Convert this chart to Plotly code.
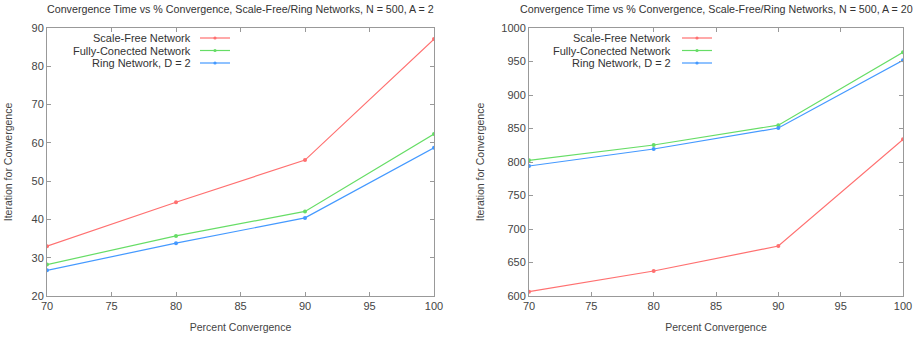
import plotly.graph_objects as go
from plotly.subplots import make_subplots

x_vals = [70, 80, 90, 100]
left_scale_free = [33.0, 44.5, 55.5, 87.1]
left_fully = [28.2, 35.7, 42.1, 62.3]
left_ring = [26.7, 33.8, 40.4, 58.7]
right_scale_free = [606.4, 637.3, 674.6, 833.8]
right_fully = [802.5, 825.4, 855.0, 963.7]
right_ring = [794.0, 819.4, 850.7, 951.8]
series_names = ["Scale-Free Network", "Fully-Conected Network", "Ring Network, D = 2"]
colors = ["#ff7070", "#66dd66", "#4499ff"]
titles = ["Convergence Time vs % Convergence, Scale-Free/Ring Networks, N = 500, A = 2",
          "Convergence Time vs % Convergence, Scale-Free/Ring Networks, N = 500, A = 20"]

W, H = 920, 339
L, R, T, B = 47, 17, 28, 43
pw = W - L - R
d1 = [0, (434 - 47) / pw]
d2 = [(529 - 47) / pw, 1]
FONT = "Liberation Sans, Arial"

fig = make_subplots(rows=1, cols=2)
for col, data in [(1, [left_scale_free, left_fully, left_ring]),
                  (2, [right_scale_free, right_fully, right_ring])]:
    for name, ys, c in zip(series_names, data, colors):
        fig.add_trace(go.Scatter(x=x_vals, y=ys, mode="lines+markers", name=name,
                                 line=dict(color=c, width=1.2),
                                 marker=dict(color=c, size=4, symbol="circle"),
                                 showlegend=False), row=1, col=col)

axis_common = dict(showgrid=False, zeroline=False, showline=True, linecolor="#999999",
                   linewidth=1, mirror="ticks", ticks="inside", ticklen=4, tickcolor="#999999",
                   automargin=False,
                   tickfont=dict(family=FONT, size=11, color="#444444"))
xt = dict(text="Percent Convergence", standoff=12, font=dict(family=FONT, size=10.5, color="#444444"))
fig.update_xaxes(range=[70, 100], dtick=5, domain=d1, row=1, col=1, **axis_common, title=xt)
fig.update_xaxes(range=[70, 100], dtick=5, domain=d2, row=1, col=2, **axis_common, title=xt)
fig.update_yaxes(range=[20, 90], dtick=10, row=1, col=1, **axis_common,
                 title=dict(text="Iteration for Convergence", standoff=16,
                            font=dict(family=FONT, size=10.5, color="#444444")))
fig.update_yaxes(range=[600, 1000], dtick=50, row=1, col=2, **axis_common,
                 title=dict(text="Iteration for Convergence", standoff=14,
                            font=dict(family=FONT, size=10.5, color="#444444")))

annotations = []
shapes = []
for dom, t in [(d1, titles[0]), (d2, titles[1])]:
    annotations.append(dict(text=t, x=(dom[0] + dom[1]) / 2, y=1 + 19 / (H - T - B),
                            xref="paper", yref="paper", showarrow=False, xanchor="center",
                            yanchor="middle",
                            font=dict(family=FONT, size=10.7, color="#333333")))
legend_specs = [(193, 200, 230), (673, 682, 712)]
row_y = [38, 50.5, 63]
for text_end, l0, l1 in legend_specs:
    for name, c, yy in zip(series_names, colors, row_y):
        py = 1 - (yy - T) / (H - T - B)
        annotations.append(dict(text=name, x=(text_end - L) / pw, y=py, xref="paper",
                                yref="paper", showarrow=False, xanchor="right", yanchor="middle",
                                font=dict(family=FONT, size=11, color="#333333")))
        shapes.append(dict(type="line", xref="paper", yref="paper",
                           x0=(l0 - L) / pw, x1=(l1 - L) / pw, y0=py, y1=py,
                           line=dict(color=c, width=1.2)))
        mx = ((l0 + l1) / 2 - L) / pw
        shapes.append(dict(type="circle", xref="paper", yref="paper",
                           x0=mx - 1.6 / pw, x1=mx + 1.6 / pw,
                           y0=py - 1.6 / (H - T - B), y1=py + 1.6 / (H - T - B),
                           fillcolor=c, line=dict(color=c, width=0)))

fig.update_layout(width=W, height=H, margin=dict(l=L, r=R, t=T, b=B, autoexpand=False),
                  plot_bgcolor="white", paper_bgcolor="white",
                  annotations=annotations, shapes=shapes, showlegend=False)
fig.write_html("out.html")
